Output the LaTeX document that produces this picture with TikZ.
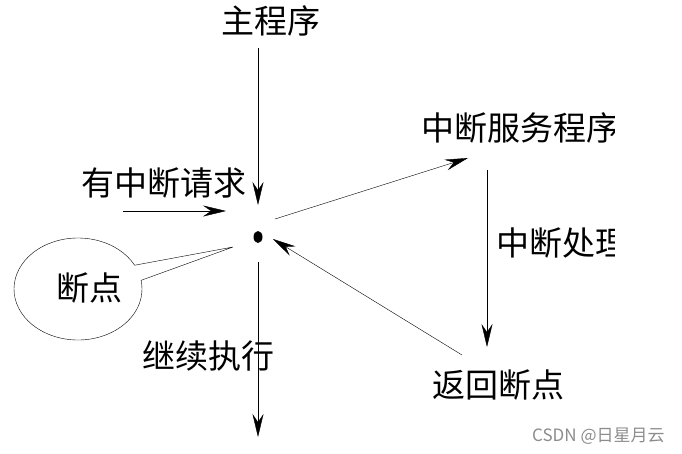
\documentclass[tikz,border=0pt]{standalone}
\usepackage{fontspec}
\newfontfamily\cjk{Noto Sans CJK SC}
\usetikzlibrary{arrows.meta, shapes.geometric, shapes.callouts, positioning}

\begin{document}
\begin{tikzpicture}[
        x=1pt, y=-1pt,
        every node/.style={inner sep=0pt, font=\cjk\fontsize{33}{38}\selectfont},
        txt/.style={anchor=west},
        arrow/.style={thin,-{Stealth[length=23pt,width=11pt,inset=8pt]}}
      ]
        \useasboundingbox (0,0) rectangle (682,453);

        % Breakpoint and callout
        \node (bp) [ellipse, fill, minimum width=9pt, minimum height=12pt] at (258,237) {};
        \coordinate (bp_tip) at (233,247);
        \node (bubble) [ellipse callout, draw, thin, minimum width=128pt, minimum height=102pt,
            callout absolute pointer={(bp_tip)}, callout pointer arc=18] at (78,289) {};
        \node (bp_text) [txt] at (56,288) {断点};

        % Labels
        \node (main) [txt] at (221,21) {主程序};
        \node (request) [txt] at (81,183) {有中断请求};
        \node (back) [txt] at (432,385) {返回断点};
        \node (go_on) [txt] at (142,356) {继续执行};
        \begin{scope}
          \clip (0,0) rectangle (614,453);
          \node (isr) [txt] at (421,128) {中断服务程序};
          \node (handle) [txt] at (496,243) {中断处理};
        \end{scope}
        \node (mark) [txt, font=\cjk\fontsize{17}{20}\selectfont, text=black!45] at (532,436) {CSDN @日星月云};

        % Arrow ends
        \coordinate (main_out) at (258,48);
        \coordinate (bp_in) at (258,205);
        \coordinate (req_out) at (123,211);
        \coordinate (req_in) at (226,211);
        \coordinate (bp_out) at (275,219);
        \coordinate (isr_in) at (468,158);
        \coordinate (isr_out) at (487,170);
        \coordinate (back_in) at (487,347);
        \coordinate (back_out) at (462,355);
        \coordinate (bp_back) at (273,239);
        \coordinate (bp_down) at (258,262);
        \coordinate (go_end) at (258,437);

        % Arrows
        \draw [arrow] (main_out) -- (bp_in);
        \draw [arrow] (req_out) -- (req_in);
        \draw [arrow] (bp_out) -- (isr_in);
        \draw [arrow] (isr_out) -- (back_in);
        \draw [arrow] (back_out) -- (bp_back);
        \draw [arrow] (bp_down) -- (go_end);
      \end{tikzpicture}
\end{document}
